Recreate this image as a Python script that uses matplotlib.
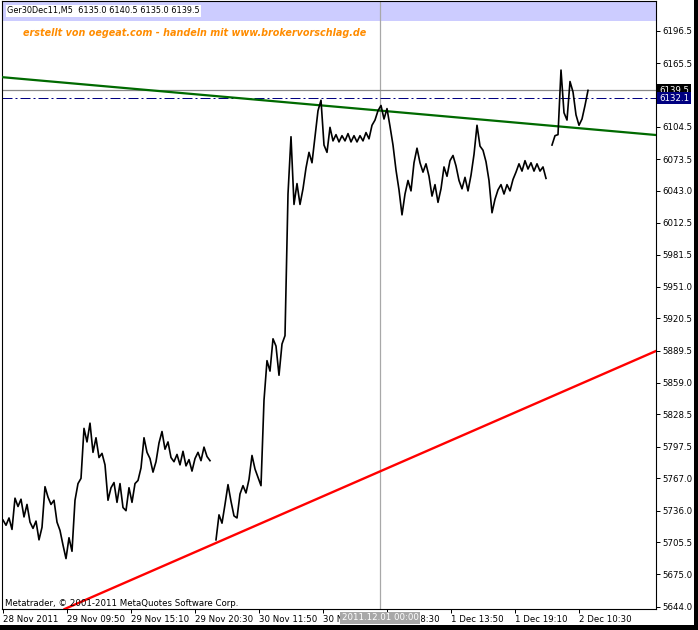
import numpy as np
import matplotlib
matplotlib.use("Agg")
import matplotlib.pyplot as plt
from matplotlib.patches import Rectangle

# Ger30Dec11 M5 close, one value every 3 bars, nan = gap in the line
step = 3
close = [
    # 28 Nov - 29 Nov
    5727, 5722, 5729, 5718, 5748, 5740, 5747, 5730, 5742, 5725,
    5719, 5726, 5708, 5720, 5759, 5749, 5742, 5746, 5725, 5717,
    5703, 5690, 5710, 5697, 5746, 5762, 5767, 5815, 5802, 5820,
    5792, 5806, 5787, 5791, 5780, 5746, 5758, 5763, 5744, 5762,
    5739, 5736, 5758, 5744, 5762, 5765, 5777, 5806, 5792, 5786,
    5773, 5783, 5801, 5812, 5795, 5802, 5787, 5783, 5790, 5780,
    5793, 5779, 5785, 5774, 5786, 5792, 5784, 5797, 5788, 5784,
    np.nan,
    # 29 Nov evening - 1 Dec
    5708, 5732, 5724, 5742, 5761, 5745, 5731, 5729, 5752, 5760,
    5753, 5766, 5789, 5776, 5768, 5760, 5842, 5880, 5870, 5901,
    5894, 5866, 5896, 5904, 6040, 6095, 6030, 6050, 6030, 6045,
    6065, 6080, 6070, 6095, 6120, 6130, 6087, 6080, 6104, 6091,
    6097, 6090, 6096, 6091, 6098, 6090, 6096, 6090, 6096, 6091,
    6099, 6093, 6106, 6111, 6120, 6125, 6112, 6122, 6105, 6087,
    6063, 6044, 6020, 6040, 6053, 6043, 6070, 6084, 6070, 6061,
    6069, 6057, 6038, 6049, 6032, 6045, 6066, 6057, 6072, 6077,
    6067, 6053, 6045, 6056, 6043, 6058, 6078, 6106, 6086, 6082,
    6071, 6053, 6022, 6035, 6044, 6049, 6040, 6049, 6043, 6054,
    6061, 6069, 6062, 6072, 6064, 6070, 6062, 6069, 6062, 6066,
    6055,
    np.nan,
    # 2 Dec
    6087, 6096, 6097, 6159, 6118, 6111, 6148, 6138, 6116, 6106,
    6112, 6125, 6139.5,
]

price_ticks = [6196.5, 6165.5, 6104.5, 6073.5, 6043.0, 6012.5, 5981.5,
               5951.0, 5920.5, 5889.5, 5859.0, 5828.5, 5797.5, 5767.0,
               5736.0, 5705.5, 5675.0, 5644.0]
time_ticks = [0, 64, 128, 192, 256, 320, 384, 448, 512, 576]
time_labels = ["28 Nov 2011", "29 Nov 09:50", "29 Nov 15:10", "29 Nov 20:30",
               "30 Nov 11:50", "30 Nov 17:10", "1 Dec 08:30", "1 Dec 13:50",
               "1 Dec 19:10", "2 Dec 10:30"]

# trendlines as (bar, price) anchors
green_pts = [(0, 6152.1), (650, 6096.9)]
red_pts = [(197, 5698.3), (653, 5889.3)]
bid = 6139.5
ask = 6132.1
sep_bar = 377
sep_label = "2011.12.01 00:00"

W, H = 698, 630
fs = 6.2
fig = plt.figure(figsize=(W / 100, H / 100), dpi=100)
ax = fig.add_axes([2 / W, 21 / H, 654 / W, 608 / H])

bars = np.arange(len(close)) * step
ax.plot(bars, close, color="black", lw=1.2, zorder=4)

ax.axline(green_pts[0], green_pts[1], color="#006a00", lw=1.6, zorder=3)
ax.axline(red_pts[0], red_pts[1], color="#ff0000", lw=1.7, zorder=3)
ax.axhline(bid, color="#8a8a8a", lw=0.9, zorder=2)
ax.axhline(ask, color="#000080", lw=0.72, dashes=(10, 3, 2, 3), zorder=2)
ax.axvline(sep_bar, color="#a8a8a8", lw=0.9, zorder=1)

ax.set_xlim(-1, 653)
ax.set_ylim(5641.6, 6225.3)

# header band
ax.add_patch(Rectangle((3 / W, (H - 21) / H), 653 / W, 19 / H,
                       transform=fig.transFigure, fc="#ccccff", ec="none", zorder=0))
fig.text(7 / W, 1 - 11 / H, "Ger30Dec11,M5  6135.0 6140.5 6135.0 6139.5",
         fontsize=5.9, va="center", ha="left",
         bbox=dict(boxstyle="square,pad=0.15", fc="white", ec="none"))
fig.text(23 / W, 1 - 33 / H,
         "erstellt von oegeat.com - handeln mit www.brokervorschlag.de",
         fontsize=6.9, fontweight="bold", fontstyle="italic", color="#ff8c00",
         va="center", ha="left")
fig.text(5 / W, 1 - 604 / H, "Metatrader, \u00a9 2001-2011 MetaQuotes Software Corp.",
         fontsize=fs, va="center", ha="left")

for s in ax.spines.values():
    s.set_linewidth(0.8)
    s.set_color("black")

ax.yaxis.tick_right()
ax.set_yticks(price_ticks)
ax.set_yticklabels(["%.1f" % p for p in price_ticks])
ax.set_xticks(time_ticks)
ax.set_xticklabels(time_labels)
ax.tick_params(axis="both", direction="out", length=3, width=0.72, labelsize=fs, pad=1.5)
plt.setp(ax.get_xticklabels(), ha="left")

ytr = ax.get_yaxis_transform()
ax.text(1.0046, bid, "%.1f" % bid, transform=ytr, color="white", fontsize=fs,
        va="center", ha="left", clip_on=False, zorder=6,
        bbox=dict(boxstyle="square,pad=0.2", fc="black", ec="none"))
ax.text(1.0046, ask, "%.1f" % ask, transform=ytr, color="white", fontsize=fs,
        va="center", ha="left", clip_on=False, zorder=7,
        bbox=dict(boxstyle="square,pad=0.2", fc="#000080", ec="none"))
# date separator label sits over the time axis, like the terminal draws it
ax.text(sep_bar, -0.0148, sep_label, transform=ax.get_xaxis_transform(),
        color="white", fontsize=fs, va="center", ha="center", clip_on=False, zorder=7,
        bbox=dict(boxstyle="square,pad=0.2", fc="#a8a8a8", ec="none"))

# window frame
fig.patches.append(Rectangle((0, 0), 1, 5 / H, transform=fig.transFigure,
                             fc="black", ec="none"))
fig.patches.append(Rectangle((694 / W, 0), 4 / W, 1, transform=fig.transFigure,
                             fc="black", ec="none"))

fig.savefig("out.png", dpi=100)
